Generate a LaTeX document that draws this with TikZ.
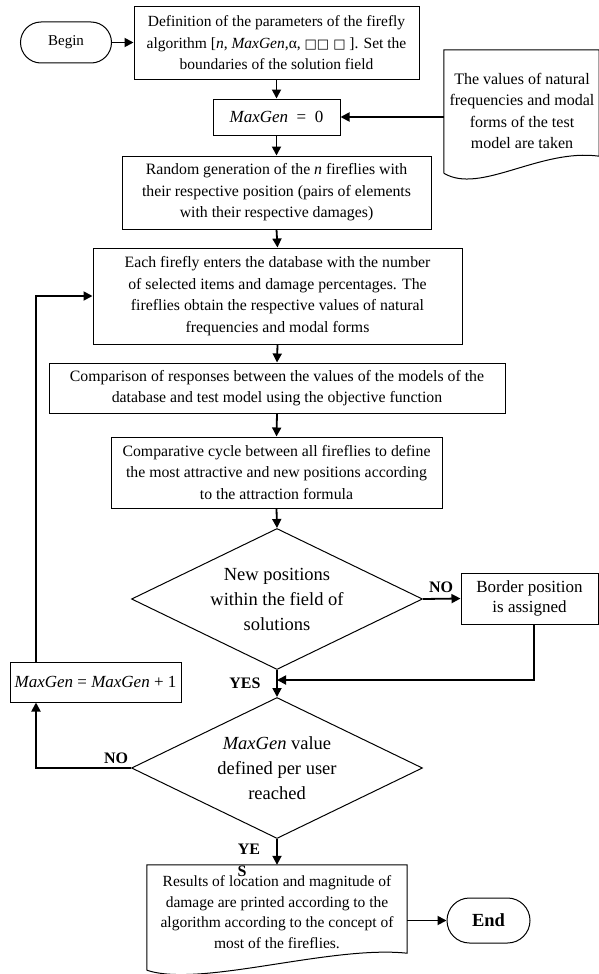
\documentclass[tikz,border=0pt]{standalone}
\usepackage{fontspec}
\setmainfont{Liberation Serif}
\newfontfamily\symf{DejaVu Sans}
\usetikzlibrary{shapes.geometric,shapes.misc,arrows.meta}
\newcommand\fsA{\fontsize{15.8}{21.5}\selectfont}
\newcommand\fsD{\fontsize{18.5}{25}\selectfont}
\tikzset{
  box/.style={draw, line width=1pt, align=center, inner sep=0pt, font=\fsA},
  plain/.style={align=center, inner sep=0pt, font=\fsA},
  dia/.style={draw, diamond, line width=1pt, align=center, inner sep=0pt, font=\fsD,
              aspect=2.06, minimum width=291, minimum height=141},
  arr/.style={line width=1.8pt, -{Triangle[length=9pt,width=9pt]}},
  lbl/.style={font=\fontsize{16}{16}\selectfont\bfseries, inner sep=0pt},
}
\begin{document}
\begin{tikzpicture}[x=1pt,y=-1pt]
\useasboundingbox (0,0) rectangle (599,974);

\node[box, rounded rectangle, minimum width=91, minimum height=41,
      font=\fontsize{15}{15}\selectfont] (begin) at (66,42.5) {Begin};
\node[box, minimum width=285, minimum height=72, font=\fontsize{15.5}{21.5}\selectfont] (def) at (276.5,43)
  {Definition of the parameters of the firefly\\ algorithm [\textit{n}, \textit{MaxGen},α, {\symf\fontsize{13}{13}\selectfont □□ □} ]. Set the\\ boundaries of the solution field};
\node[box, minimum width=127, minimum height=36, font=\fontsize{17}{17}\selectfont] (mg0) at (276.5,117) {\textit{MaxGen} \ = \ 0};

% document shape: values
\node[minimum width=155, minimum height=123, inner sep=0pt] (valsbox) at (521.5,111.5) {};
\node[plain, font=\fontsize{16}{21.3}\selectfont] (vals) at (522,111)
  {The values of natural\\ frequencies and modal\\ forms of the test\\ model are taken};
\draw[line width=1pt] (valsbox.south west) -- (valsbox.north west) -- (valsbox.north east)
  -- ([yshift=17pt]valsbox.south east)
  .. controls (540,148) and (480,195) .. (valsbox.south west);

\node[box, minimum width=309, minimum height=73] (rand) at (276.5,192.5)
  {Random generation of the \textit{n} fireflies with\\ their respective position (pairs of elements\\ with their respective damages)};
\node[box, minimum width=369, minimum height=96] (each) at (277.5,296)
  {Each firefly enters the database with the number\\ of selected items and damage percentages. The\\ fireflies obtain the respective values of natural\\ frequencies and modal forms};
\node[box, minimum width=456, minimum height=50] (cmp) at (277,388)
  {Comparison of responses between the values of the models of the\\ database and test model using the objective function};
\node[box, minimum width=331, minimum height=71] (cyc) at (276.5,472.5)
  {Comparative cycle between all fireflies to define\\ the most attractive and new positions according\\ to the attraction formula};

\node[dia] (d1) at (277,599) {New positions\\ within the field of\\ solutions};
\node[box, minimum width=137, minimum height=51, font=\fontsize{17}{20.5}\selectfont] (border) at (529.5,598.5) {Border position\\ is assigned};
\node[box, minimum width=171, minimum height=40, font=\fontsize{17}{17}\selectfont] (inc) at (95.5,682) {\textit{MaxGen} = \textit{MaxGen} + 1};
\node[dia] (d2) at (277,768) {\textit{MaxGen} value\\ defined per user\\ reached};

% document shape: results
\node[minimum width=260, minimum height=105, inner sep=0pt] (resbox) at (277,917.5) {};
\node[plain, font=\fontsize{15.5}{20.7}\selectfont] (res) at (277,912)
  {Results of location and magnitude of\\ damage are printed according to the\\ algorithm according to the concept of\\ most of the fireflies.};
\draw[line width=1pt] (resbox.south west) -- (resbox.north west) -- (resbox.north east)
  -- ([yshift=17pt]resbox.south east)
  .. controls (330,945) and (200,988) .. (resbox.south west);

\node[box, rounded rectangle, minimum width=83, minimum height=45,
      font=\fontsize{18.5}{18.5}\selectfont\bfseries] (endn) at (488.5,920.5) {End};

% connectors
\draw[arr] (begin.east) -- (begin.east -| def.west);
\draw[arr] (def.south) -- (mg0.north);
\draw[arr] (mg0.east -| valsbox.west) -- (mg0.east);
\draw[arr] (mg0.south) -- (rand.north);
\draw[arr] (rand.south) -- (each.north);
\draw[arr] (each.south) -- (cmp.north);
\draw[arr] (cmp.south) -- (cyc.north);
\draw[arr] (cyc.south) -- (d1.north);
\draw[arr] (d1.east) -- (border.west);
\coordinate (join) at (277,680);
\draw[arr] ([xshift=4.5pt]border.south) |- (join);
\draw[arr] (d1.south) -- (d2.north);
\coordinate (lp) at (36,768);
\draw[arr] (d2.west) -- (lp) -- (lp |- inc.south);
\draw[arr] (lp |- inc.north) -- (lp |- each.west) -- (each.west);
\draw[arr] (d2.south) -- (resbox.north);
\draw[arr] (resbox.east |- endn.west) -- (endn.west);

% labels
\node[lbl] (no1) at (441,587) {NO};
\node[lbl] (yes1) at (245,683) {YES};
\node[lbl] (no2) at (116,758) {NO};
\node[lbl] (ye2) at (249,849) {YE};
\node[lbl] (s2) at (242,871) {S};
\end{tikzpicture}
\end{document}
